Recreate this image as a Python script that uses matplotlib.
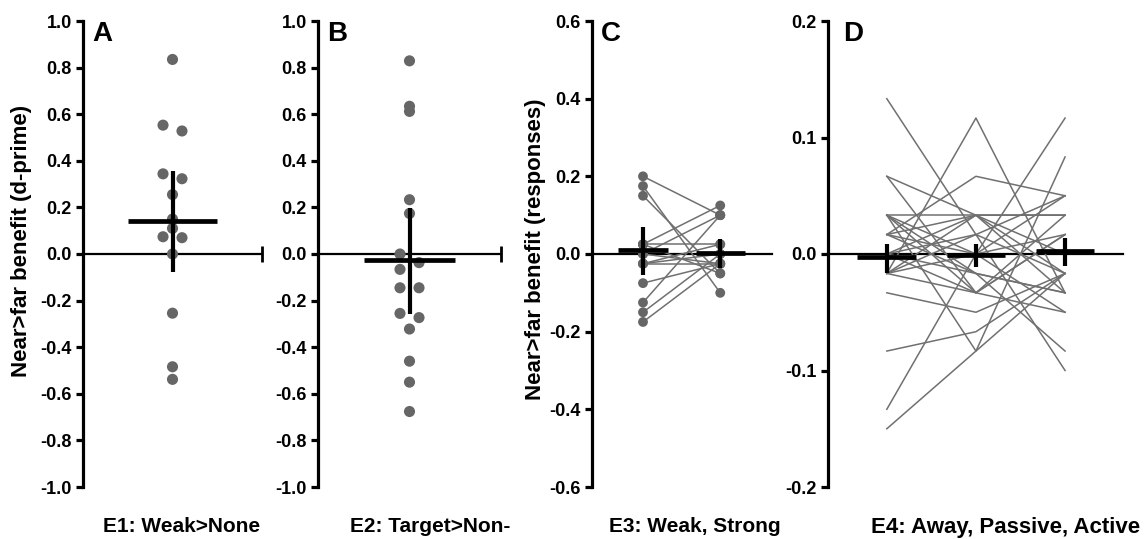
import matplotlib
matplotlib.use('Agg')
import matplotlib.pyplot as plt
from matplotlib.ticker import FormatStrFormatter, MultipleLocator
import numpy as np

plt.rcParams['font.family'] = ['Liberation Sans', 'DejaVu Sans']
plt.rcParams['font.weight'] = 'bold'
plt.rcParams['axes.unicode_minus'] = False

# ─── Datos ────────────────────────────────────────────────────────────────────

# E1: Weak>None (d-prime)
e1_vals = [0.835, 0.553, 0.528, 0.344, 0.323, 0.255, 0.150, 0.110, 0.074, 0.070,
           0.0, -0.254, -0.484, -0.538]
e1_mean, e1_hi, e1_lo = 0.143, 0.358, -0.078

# E2: Target>Non- (d-prime)
e2_vals = [0.829, 0.634, 0.612, 0.233, 0.174, 0.0, -0.037, -0.066, -0.145, -0.145,
           -0.255, -0.273, -0.322, -0.460, -0.550, -0.676]
e2_mean, e2_hi, e2_lo = -0.027, 0.199, -0.258

# E3: Weak, Strong (responses), one pair per subject
e3_weak   = [0.200, 0.175, 0.150, 0.025, 0.025, 0.0, 0.0, -0.025, -0.025, -0.075,
             -0.125, -0.150, -0.175, 0.025, -0.025]
e3_strong = [0.100, -0.100, -0.050, 0.125, 0.025, 0.100, -0.025, 0.0, -0.025, -0.025,
             0.100, 0.0, -0.025, -0.050, 0.025]
e3_mean = [0.010, 0.003]
e3_hi   = [0.070, 0.039]
e3_lo   = [-0.054, -0.036]

# E4: Away, Passive, Active (responses), one row per subject
e4_rows = [
    (0.1333, 0.0167, -0.1000),
    (-0.0167, 0.1167, -0.0333),
    (0.0667, -0.0333, -0.0500),
    (0.0167, 0.0667, 0.0500),
    (0.0333, 0.0333, 0.0333),
    (-0.1333, 0.0, 0.1167),
    (-0.1500, -0.0833, 0.0833),
    (-0.0833, -0.0667, -0.0167),
    (-0.0333, -0.0500, -0.0167),
    (0.0333, 0.0, 0.0500),
    (0.0333, -0.0333, 0.0333),
    (0.0167, 0.0333, -0.0167),
    (0.0, 0.0167, 0.0500),
    (-0.0167, 0.0333, 0.0),
    (0.0, -0.0167, -0.0333),
    (-0.0167, -0.0333, 0.0167),
    (0.0333, -0.0167, -0.0833),
    (0.0167, 0.0, -0.0500),
    (0.0, 0.0333, 0.0333),
    (-0.0167, 0.0, 0.0167),
    (0.0333, -0.0833, -0.0167),
    (0.0, -0.0333, 0.0167),
    (-0.0167, 0.0167, -0.0167),
    (0.0167, -0.0167, -0.0333),
    (0.0667, 0.0333, -0.0333),
]
e4_mean = [-0.0030, -0.0010, 0.0025]
e4_hi   = [0.0088, 0.0090, 0.0140]
e4_lo   = [-0.0160, -0.0110, -0.0100]

e1_jit = [0, -1, 1, -1, 1, 0, 0, 0, -1, 1, 0, 0, 0, 0]
e2_jit = [0, 0, 0, 0, 0, -1, 1, -1, -1, 1, -1, 1, 0, 0, 0, 0]

# ─── Figura ──────────────────────────────────────────────────────────────────

W, H = 1148, 539
fig = plt.figure(figsize=(W / 100, H / 100), dpi=100)
grey = '#666666'
lgrey = '#707070'
bottom = (H - 487) / H
height = 466 / H

def px_axes(x0, x1):
    return fig.add_axes([x0 / W, bottom, (x1 - x0) / W, height])

def style(ax, ylo, yhi, step, fmt, letter):
    ax.set_ylim(ylo, yhi)
    ax.yaxis.set_major_locator(MultipleLocator(step))
    ax.yaxis.set_major_formatter(FormatStrFormatter(fmt))
    for s in ['top', 'right', 'bottom']:
        ax.spines[s].set_visible(False)
    ax.spines['left'].set_linewidth(2.3)
    ax.set_xticks([])
    ax.tick_params(axis='y', length=5, width=2.3, pad=3, labelsize=13)
    for lab in ax.get_yticklabels():
        lab.set_fontweight('bold')
    ax.axhline(0, color='black', lw=1.6, zorder=2, clip_on=False)
    ax.text(0.05, 1.0, letter, transform=ax.transAxes, fontsize=20,
            fontweight='bold', va='top', ha='left')

def mean_err(ax, x, m, hi, lo, half):
    ax.plot([x - half, x + half], [m, m], color='black', lw=3.4, zorder=5,
            solid_capstyle='butt')
    ax.plot([x, x], [lo, hi], color='black', lw=3.0, zorder=5,
            solid_capstyle='butt')

# ─── Panel A ─────────────────────────────────────────────────────────────────
axA = px_axes(83, 262)
axA.set_xlim(-1, 1)
style(axA, -1.0, 1.0, 0.2, '%.1f', 'A')
axA.scatter(np.array(e1_jit) * 0.106, e1_vals, s=64, color=grey, zorder=3,
            edgecolors='none')
mean_err(axA, 0, e1_mean, e1_hi, e1_lo, 0.5)
axA.plot([1], [0], marker='|', color='black', markersize=11, mew=2,
         clip_on=False)

# ─── Panel B ─────────────────────────────────────────────────────────────────
axB = px_axes(318, 501)
axB.set_xlim(-1, 1)
style(axB, -1.0, 1.0, 0.2, '%.1f', 'B')
axB.scatter(np.array(e2_jit) * 0.104, e2_vals, s=64, color=grey, zorder=3,
            edgecolors='none')
mean_err(axB, 0, e2_mean, e2_hi, e2_lo, 0.5)
axB.plot([1], [0], marker='|', color='black', markersize=11, mew=2,
         clip_on=False)

# ─── Panel C ─────────────────────────────────────────────────────────────────
axC = px_axes(592, 772)
axC.set_xlim(-0.66, 1.67)
style(axC, -0.6, 0.6, 0.2, '%.1f', 'C')
for w, s in zip(e3_weak, e3_strong):
    axC.plot([0, 1], [w, s], color=lgrey, lw=1.1, zorder=3)
axC.scatter([0] * len(e3_weak), e3_weak, s=50, color=grey, zorder=3,
            edgecolors='none')
axC.scatter([1] * len(e3_strong), e3_strong, s=50, color=grey, zorder=3,
            edgecolors='none')
for i in range(2):
    mean_err(axC, i, e3_mean[i], e3_hi[i], e3_lo[i], 0.32)

# ─── Panel D ─────────────────────────────────────────────────────────────────
axD = px_axes(828, 1123)
axD.set_xlim(-0.66, 2.65)
style(axD, -0.2, 0.2, 0.1, '%.1f', 'D')
for row in e4_rows:
    axD.plot([0, 1, 2], row, color=lgrey, lw=1.1, zorder=3)
for i in range(3):
    mean_err(axD, i, e4_mean[i], e4_hi[i], e4_lo[i], 0.33)

# ─── Etiquetas ───────────────────────────────────────────────────────────────
fig.text(22 / W, 1 - 241 / H, 'Near>far benefit (d-prime)', rotation=90,
         ha='center', va='center', fontsize=16, fontweight='bold')
fig.text(535 / W, 1 - 249 / H, 'Near>far benefit (responses)', rotation=90,
         ha='center', va='center', fontsize=16, fontweight='bold')

xlabels = [(182, 'E1: Weak>None', 15), (430, 'E2: Target>Non-', 15),
           (695, 'E3: Weak, Strong', 15), (1006, 'E4: Away, Passive, Active', 16)]
for xc, txt, fs in xlabels:
    fig.text(xc / W, 1 - 527 / H, txt, ha='center', va='center',
             fontsize=fs, fontweight='bold')

fig.savefig('out.png', dpi=100)
